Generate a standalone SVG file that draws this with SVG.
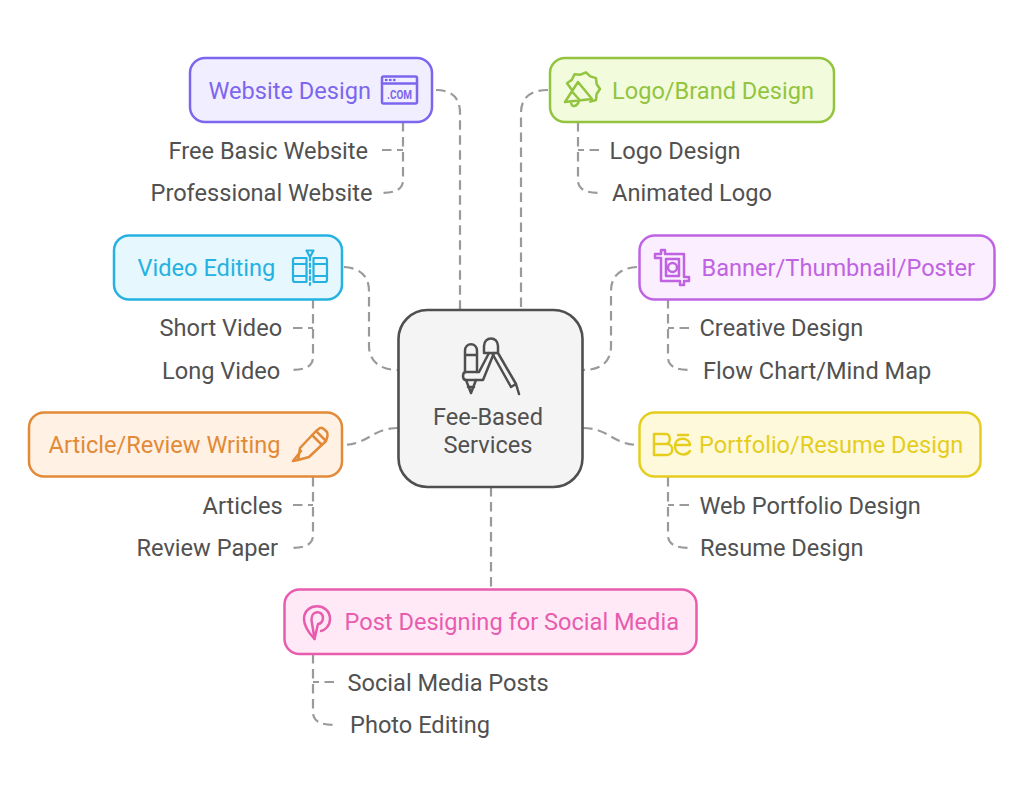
<svg xmlns="http://www.w3.org/2000/svg" width="1024" height="797" viewBox="0 0 1024 797">
<style>
text{font-family:Roboto,"Liberation Sans",sans-serif;font-size:23.6px}
.sub{fill:#515151}
.c{fill:none;stroke:#9a9a9a;stroke-width:2.2;stroke-dasharray:9.500 5.500}
.box{stroke-width:2.5}
.i{fill:none;stroke-width:2.5;stroke-linejoin:round;stroke-linecap:round}
</style>
<rect width="1024" height="797" fill="#fff"/>
<g id="connectors">
<path class="c" d="M436 90C452 90 460 98 460 113V309"/>
<path class="c" d="M548 90C530 90 521 98 521 113V309"/>
<path class="c" d="M344 267C360 268 369 276 369 291V346C369 361 380 370 398 370"/>
<path class="c" d="M637 267C620 268 611 276 611 291V346C611 361 602 370 583 370"/>
<path class="c" d="M398 428C372 428 368 445 342 445"/>
<path class="c" d="M583 428C609 428 613 445 639 445"/>
<path class="c" d="M491 487V589"/>
<path class="c" d="M403 122V180C403 189 396 193 381 193"/>
<path class="c" d="M382 150H403"/>
<path class="c" d="M578 122V180C578 189 585 193 600 193"/>
<path class="c" d="M599 150H578"/>
<path class="c" d="M313 299V357C313 366 306 370 291 370"/>
<path class="c" d="M293 328H313"/>
<path class="c" d="M668 299V357C668 366 675 370 690 370"/>
<path class="c" d="M689 328H668"/>
<path class="c" d="M313 477V535C313 544 306 548 291 548"/>
<path class="c" d="M293 505H313"/>
<path class="c" d="M668 477V535C668 544 675 548 690 548"/>
<path class="c" d="M689 505H668"/>
<path class="c" d="M313 654V712C313 721 320 725 335 725"/>
<path class="c" d="M334 682H313"/>
</g>
<g id="center">
<rect x="398.500" y="310" width="184" height="177" rx="29" fill="#f4f4f4" stroke="#4f4f4f" stroke-width="2.600"/>
<g class="i" stroke="#4f4f4f">
<path d="M465 372V351C465 342 477 342 477 351V372M465 355H477M466 380L471 393L476 380M468 387H474"/>
<path d="M479 372H466C462 372 462 380 466 380H483L494 353M479 372L489 353"/>
<path d="M484 353V346C484 336 498 336 498 346V353ZM498 353L516 384L511 387L492 353M516 384L519 394"/>
</g>
<text x="488" y="424.500" text-anchor="middle" class="sub">Fee-Based</text>
<text x="488" y="453" text-anchor="middle" class="sub">Services</text>
</g>
<g id="website-design">
<rect class="box" x="190" y="58" width="242" height="64" rx="15" fill="#f1efff" stroke="#7d66ee"/>
<text x="208.500" y="98.500" fill="#7d66ee">Website Design</text>
<g class="i" stroke="#7d66ee">
<rect x="382" y="76.500" width="35" height="27" rx="1.500"/>
<path d="M382 83.500H417M386 80H386.500M390 80H390.500M394 80H394.500"/>
<text x="387" y="99" fill="#7d66ee" stroke="none" textLength="25" lengthAdjust="spacingAndGlyphs" style="font-size:13px;font-weight:700">.COM</text>
</g>
</g>
<g id="logo-brand-design">
<rect class="box" x="550" y="58" width="284" height="64" rx="15" fill="#f2fcdc" stroke="#92c43f"/>
<text x="612" y="98.500" fill="#92c43f">Logo/Brand Design</text>
<g class="i" stroke="#92c43f">
<path d="M572 90L567 83.200L571.900 79.700L574.500 74.300L580.500 74.700L586 72.300L590.300 76.400L596 78.100L596.600 84L600 89L596.600 94L596 100L590.300 101.600"/>
<path d="M578 82L592 99L565 102ZM572.500 92L580 100.500M571 102C571 108 577 107 579 101"/>
</g>
</g>
<g id="video-editing">
<rect class="box" x="114" y="235.500" width="228" height="64" rx="15" fill="#e6f7fe" stroke="#25b2e2"/>
<text x="137.500" y="276" fill="#25b2e2">Video Editing</text>
<g class="i" stroke="#25b2e2" style="stroke-width:2.200">
<path d="M306.500 258H295Q293 258 293 260V280Q293 282 295 282H306.500ZM313.500 258H325Q327 258 327 260V280Q327 282 325 282H313.500ZM293 264H306.500M313.500 264H327M293 276H306.500M313.500 276H327"/>
<path d="M310 257V285" stroke-dasharray="3.500 3"/>
<path d="M306.500 250.500H313.500L310 257Z"/>
</g>
</g>
<g id="banner-thumbnail-poster">
<rect class="box" x="639.500" y="235.500" width="355" height="64" rx="15" fill="#fbeeff" stroke="#bf63e3"/>
<text x="701.500" y="276" fill="#bf63e3">Banner/Thumbnail/Poster</text>
<g class="i" stroke="#bf63e3">
<path d="M661 250H665V254H684V277H689V281H684V285H680V281H661V258H655V254H661Z"/>
<rect x="666" y="259" width="13" height="17"/>
<circle cx="672.500" cy="267.500" r="4.500"/>
</g>
</g>
<g id="article-review-writing">
<rect class="box" x="29" y="412.500" width="313" height="64" rx="15" fill="#fff1e4" stroke="#e28a37"/>
<text x="48.500" y="453" fill="#e28a37">Article/Review Writing</text>
<g class="i" stroke="#e28a37">
<path d="M300 448L316 431L326 441L309 457L298 460ZM293 461L298 460M293 461L301 451M312 435L322 445M316 431L320 428C322 427 324 429 327 432C328 434 328 436 326 441"/>
</g>
</g>
<g id="portfolio-resume-design">
<rect class="box" x="639.500" y="412.500" width="341" height="64" rx="15" fill="#fff9dc" stroke="#e5cd1e"/>
<text x="699" y="453" fill="#e5cd1e">Portfolio/Resume Design</text>
<g class="i" stroke="#e5cd1e">
<path d="M654 434H666C671 434 671 444 666 444H654ZM654 444H667C674 444 674 455 667 455H654ZM654 434V455"/>
<path d="M678 435H688M675 445H690C690 437 675 436 675 446C675 455 686 457 690 451"/>
</g>
</g>
<g id="post-designing">
<rect class="box" x="284.500" y="589.500" width="412" height="64.500" rx="15" fill="#ffe9f7" stroke="#e85cae"/>
<text x="344.500" y="630" fill="#e85cae">Post Designing for Social Media</text>
<g class="i" stroke="#e85cae">
<path d="M314.500 639C308 632 304 626 304 619C304 602 330 602 330 619C330 626 325 630 321 631"/>
<path d="M314.500 639L311.500 620C311 610 323 610 323 618C323 622 320 624 318 624L314.500 639"/>
</g>
</g>
<g id="website-items"><text x="168.500" y="158.500" class="sub">Free Basic Website</text><text x="150.500" y="201" class="sub">Professional Website</text></g>
<g id="logo-items"><text x="609.500" y="158.500" class="sub">Logo Design</text><text x="612" y="201" class="sub">Animated Logo</text></g>
<g id="video-items"><text x="159.500" y="335.500" class="sub">Short Video</text><text x="162" y="378.500" class="sub">Long Video</text></g>
<g id="banner-items"><text x="699.500" y="335.500" class="sub">Creative Design</text><text x="703" y="378.500" class="sub">Flow Chart/Mind Map</text></g>
<g id="article-items"><text x="202.500" y="513.500" class="sub">Articles</text><text x="136.500" y="556" class="sub">Review Paper</text></g>
<g id="portfolio-items"><text x="699.500" y="513.500" class="sub">Web Portfolio Design</text><text x="700" y="556" class="sub">Resume Design</text></g>
<g id="post-items"><text x="347.500" y="690.500" class="sub">Social Media Posts</text><text x="350" y="733" class="sub">Photo Editing</text></g>
</svg>
